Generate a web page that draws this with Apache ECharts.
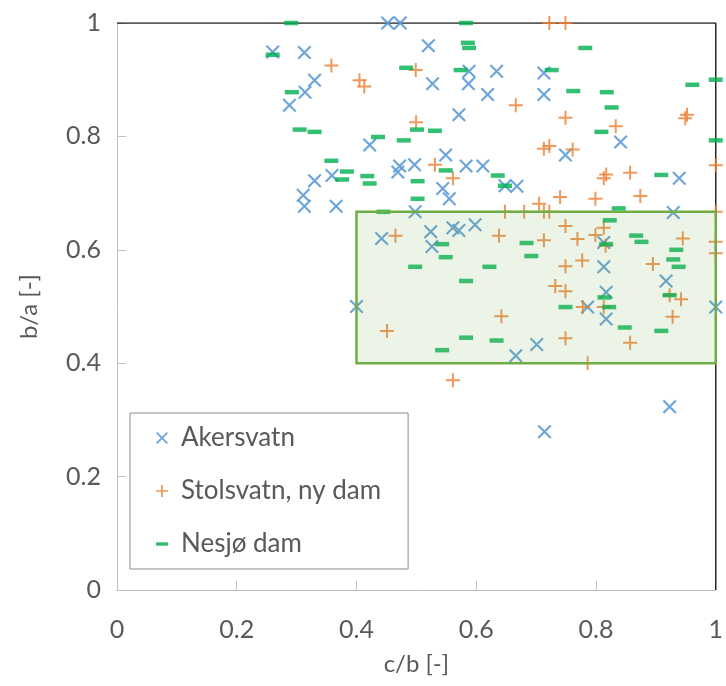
<!DOCTYPE html>
<html>
<head>
<meta charset="utf-8">
<script src="https://cdn.jsdelivr.net/npm/echarts@6/dist/echarts.min.js"></script>
<style>
  html, body { margin: 0; padding: 0; background: #fff; }
  #chart { width: 726px; height: 686px; }
</style>
</head>
<body>
<div id="chart"></div>
<script>
// c/b (x), b/a (y) pairs
const akersvatn = [
  [0.452, 1.0], [0.473, 1.0], [0.26, 0.949], [0.313, 0.948], [0.33, 0.899],
  [0.314, 0.878], [0.288, 0.855], [0.422, 0.785], [0.472, 0.748], [0.469, 0.737],
  [0.497, 0.75], [0.359, 0.731], [0.33, 0.722], [0.311, 0.696], [0.313, 0.677],
  [0.366, 0.677], [0.498, 0.667], [0.52, 0.96], [0.588, 0.915], [0.634, 0.915],
  [0.713, 0.912], [0.527, 0.893], [0.587, 0.893], [0.619, 0.874], [0.713, 0.874],
  [0.571, 0.838], [0.549, 0.767], [0.583, 0.748], [0.611, 0.748], [0.544, 0.708],
  [0.555, 0.69], [0.648, 0.713], [0.668, 0.712], [0.749, 0.767], [0.442, 0.62],
  [0.524, 0.632], [0.526, 0.606], [0.561, 0.639], [0.571, 0.634], [0.598, 0.644],
  [0.4, 0.5], [0.701, 0.433], [0.666, 0.413], [0.714, 0.279], [0.929, 0.666],
  [0.813, 0.613], [0.813, 0.57], [0.917, 0.545], [0.817, 0.525], [0.786, 0.499],
  [1.0, 0.499], [0.817, 0.478], [0.923, 0.323], [0.841, 0.79], [0.939, 0.726]
]
const stolsvatn = [
  [0.358, 0.925], [0.405, 0.899], [0.413, 0.888], [0.499, 0.917], [0.4995, 0.825],
  [0.722, 1.0], [0.749, 1.0], [0.666, 0.855], [0.749, 0.833], [0.531, 0.75],
  [0.561, 0.726], [0.713, 0.778], [0.722, 0.783], [0.761, 0.777], [0.74, 0.693],
  [0.705, 0.681], [0.648, 0.667], [0.68, 0.667], [0.713, 0.667], [0.722, 0.667],
  [0.749, 0.642], [0.465, 0.625], [0.451, 0.457], [0.561, 0.37], [0.638, 0.625],
  [0.713, 0.617], [0.749, 0.571], [0.732, 0.536], [0.749, 0.527], [0.642, 0.483],
  [0.749, 0.444], [1.0, 0.667], [0.813, 0.639], [0.769, 0.619], [0.799, 0.626],
  [0.816, 0.607], [0.945, 0.62], [1.0, 0.614], [1.0, 0.594], [0.777, 0.581],
  [0.895, 0.575], [0.923, 0.52], [0.942, 0.513], [0.778, 0.499], [0.813, 0.499],
  [0.928, 0.482], [0.857, 0.436], [0.786, 0.4], [0.952, 0.838], [0.949, 0.832],
  [0.833, 0.818], [0.817, 0.733], [0.813, 0.726], [0.857, 0.736], [1.0, 0.749],
  [0.799, 0.69], [0.874, 0.695]
]
const nesjo = [
  [0.291, 1.0], [0.26, 0.944], [0.483, 0.921], [0.292, 0.878], [0.305, 0.812],
  [0.33, 0.808], [0.436, 0.799], [0.479, 0.793], [0.501, 0.812], [0.358, 0.757],
  [0.384, 0.738], [0.418, 0.73], [0.376, 0.724], [0.422, 0.717], [0.445, 0.667],
  [0.502, 0.721], [0.502, 0.69], [0.583, 1.0], [0.586, 0.965], [0.588, 0.956],
  [0.574, 0.917], [0.726, 0.917], [0.762, 0.88], [0.531, 0.81], [0.549, 0.74],
  [0.636, 0.731], [0.648, 0.713], [0.543, 0.61], [0.549, 0.587], [0.498, 0.57],
  [0.583, 0.545], [0.583, 0.445], [0.543, 0.423], [0.622, 0.57], [0.684, 0.612],
  [0.692, 0.589], [0.749, 0.499], [0.634, 0.44], [0.838, 0.673], [0.823, 0.652],
  [0.817, 0.61], [0.867, 0.625], [0.876, 0.614], [0.934, 0.6], [0.929, 0.583],
  [0.938, 0.57], [0.814, 0.516], [0.923, 0.52], [0.822, 0.499], [0.848, 0.463],
  [0.909, 0.457], [0.782, 0.956], [0.818, 0.878], [0.826, 0.851], [0.961, 0.891],
  [1.0, 0.9], [0.809, 0.808], [1.0, 0.793], [0.909, 0.732]
]
// shaded zone [x0, y0, x1, y1]
const zone = [0.4, 0.4, 1.0, 0.667]
// frame line along b/a = 1 and c/b = 1
const frame = [[0, 1], [1, 1], [1, 0]]

const FONT = 'Lato'
const TXT = '#595959'

const crossPath = 'path://M-7,-5.5L-5.5,-7L7,5.5L5.5,7Z M5.5,-7L7,-5.5L-5.5,7L-7,5.5Z'
const plusPath = 'path://M-1,-7H1V-1H7V1H1V7H-1V1H-7V-1H-1Z'
const dashPath = 'path://M0,0H14V4H0Z'

const chart = echarts.init(document.getElementById('chart'))

const axisCommon = {
  type: 'value',
  min: 0,
  max: 1,
  interval: 0.2,
  splitLine: { show: false },
  axisLine: { lineStyle: { color: '#BFBFBF', width: 1 } },
  axisTick: { inside: true, length: 9, lineStyle: { color: '#BFBFBF' } },
  axisLabel: {
    color: TXT,
    fontFamily: FONT,
    fontSize: 25,
    formatter(v) {
      return String(Math.round(v * 10) / 10)
    }
  },
  nameLocation: 'middle',
  nameTextStyle: { color: TXT, fontFamily: FONT, fontSize: 24 }
}

chart.setOption({
  backgroundColor: '#ffffff',
  animation: false,
  grid: { left: 117, right: 9, top: 23, bottom: 96 },
  xAxis: Object.assign({}, axisCommon, {
    name: 'c/b [-]',
    nameGap: 62,
    axisLabel: Object.assign({}, axisCommon.axisLabel, { margin: 27 })
  }),
  yAxis: Object.assign({}, axisCommon, {
    name: 'b/a [-]',
    nameGap: 76,
    axisLabel: Object.assign({}, axisCommon.axisLabel, { margin: 16 })
  }),
  legend: {
    orient: 'vertical',
    left: 130,
    top: 413,
    padding: [12, 27, 12, 26],
    itemGap: 27,
    itemWidth: 12,
    itemHeight: 12,
    backgroundColor: '#ffffff',
    borderColor: '#8C8C8C',
    borderWidth: 1,
    borderRadius: 0,
    textStyle: {
      color: TXT,
      fontFamily: FONT,
      fontSize: 26,
      lineHeight: 24,
      padding: [0, 0, 0, 8]
    },
    data: [
      { name: 'Akersvatn', icon: crossPath },
      { name: 'Stolsvatn, ny dam', icon: plusPath },
      { name: 'Nesjø dam', icon: dashPath }
    ]
  },
  series: [
    {
      name: 'frame',
      type: 'line',
      data: frame,
      showSymbol: false,
      silent: true,
      lineStyle: { color: '#262626', width: 1.5 },
      z: 1
    },
    {
      name: 'Akersvatn',
      type: 'scatter',
      data: akersvatn,
      symbol: crossPath,
      symbolSize: 14,
      itemStyle: { color: '#5B9BD5', opacity: 0.9 },
      z: 3
    },
    {
      name: 'Stolsvatn, ny dam',
      type: 'scatter',
      data: stolsvatn,
      symbol: plusPath,
      symbolSize: 14,
      itemStyle: { color: '#ED7D31' },
      z: 3
    },
    {
      name: 'Nesjø dam',
      type: 'scatter',
      data: nesjo,
      symbol: dashPath,
      symbolSize: [14, 4.5],
      itemStyle: { color: '#00B050' },
      z: 3
    },
    {
      name: 'zone',
      type: 'custom',
      data: [zone],
      encode: { x: [0, 2], y: [1, 3] },
      silent: true,
      clip: false,
      z: 10,
      renderItem(params, api) {
        const p0 = api.coord([api.value(0), api.value(1)])
        const p1 = api.coord([api.value(2), api.value(3)])
        return {
          type: 'rect',
          shape: { x: p0[0], y: p1[1], width: p1[0] - p0[0], height: p0[1] - p1[1] },
          style: { fill: 'rgba(112,173,71,0.13)', stroke: '#70AD47', lineWidth: 2.5 }
        }
      }
    }
  ]
})
</script>
</body>
</html>
